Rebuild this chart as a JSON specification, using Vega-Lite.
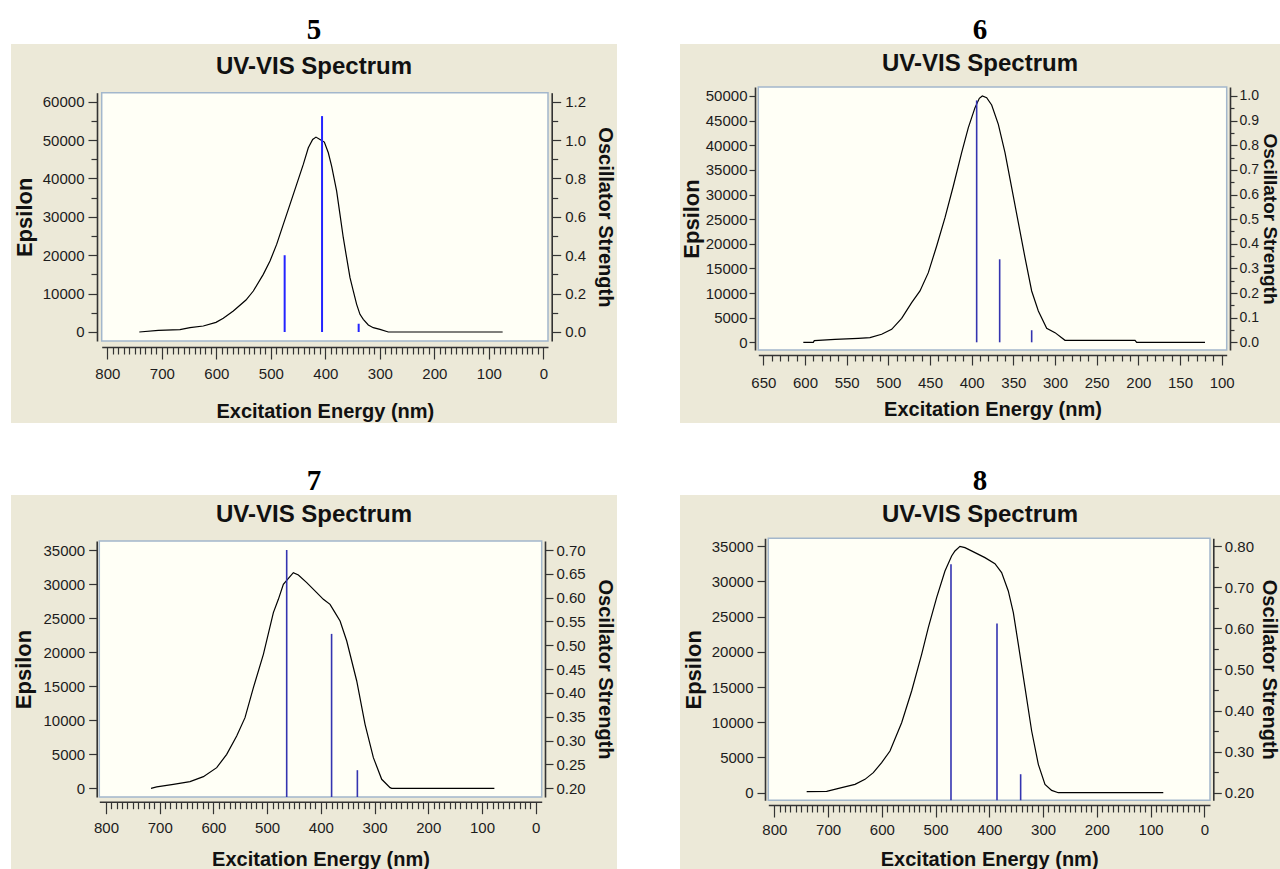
{
  "$schema": "https://vega.github.io/schema/vega-lite/v6.json",
  "background": "white",
  "padding": {"left": 11, "top": 15, "right": 0, "bottom": 0},
  "columns": 2,
  "spacing": {"row": 43, "column": 63},
  "datasets": {
    "spec5": [{"nm":741.3,"eps":0},{"nm":706.4,"eps":434},{"nm":666.7,"eps":608},{"nm":648.3,"eps":1128},{"nm":623.9,"eps":1562},{"nm":600.6,"eps":2517},{"nm":587.2,"eps":3559},{"nm":568.8,"eps":5468},{"nm":545.6,"eps":8333},{"nm":532.1,"eps":10676},{"nm":513.8,"eps":15016},{"nm":501.5,"eps":18488},{"nm":489.3,"eps":22828},{"nm":477.1,"eps":28036},{"nm":464.8,"eps":33244},{"nm":452.6,"eps":38452},{"nm":440.4,"eps":43660},{"nm":431.2,"eps":48000},{"nm":423.2,"eps":50170},{"nm":417.1,"eps":50778},{"nm":409.8,"eps":50170},{"nm":401.8,"eps":49476},{"nm":394.5,"eps":46698},{"nm":388.4,"eps":43226},{"nm":379.2,"eps":36716},{"nm":373.1,"eps":30640},{"nm":367.0,"eps":24564},{"nm":360.9,"eps":19356},{"nm":354.7,"eps":14148},{"nm":348.6,"eps":10676},{"nm":342.5,"eps":7204},{"nm":336.4,"eps":4600},{"nm":330.3,"eps":3298},{"nm":321.1,"eps":1823},{"nm":312.0,"eps":1128},{"nm":299.7,"eps":694},{"nm":284.4,"eps":0},{"nm":74.6,"eps":0}],
    "osc5": [{"nm":474.6,"f":0.40},{"nm":406,"f":1.125},{"nm":338.8,"f":0.043}],
    "spec6": [{"nm":602,"eps":0},{"nm":590,"eps":0},{"nm":588.8,"eps":338},{"nm":564,"eps":609},{"nm":536,"eps":812},{"nm":522,"eps":947},{"nm":508,"eps":1624},{"nm":496,"eps":2639},{"nm":484,"eps":4872},{"nm":472,"eps":8052},{"nm":462,"eps":10420},{"nm":452,"eps":14141},{"nm":442,"eps":19554},{"nm":432,"eps":25305},{"nm":422,"eps":31733},{"nm":412,"eps":38499},{"nm":404,"eps":43573},{"nm":396,"eps":47633},{"nm":390.8,"eps":49528},{"nm":387.2,"eps":50000},{"nm":382,"eps":49662},{"nm":376,"eps":48174},{"nm":368,"eps":44250},{"nm":360,"eps":38499},{"nm":352,"eps":31394},{"nm":344,"eps":24290},{"nm":336,"eps":17186},{"nm":328,"eps":10420},{"nm":320,"eps":6360},{"nm":310,"eps":2842},{"nm":300,"eps":1962},{"nm":288,"eps":406},{"nm":204,"eps":406},{"nm":202,"eps":0},{"nm":120,"eps":0}],
    "osc6": [{"nm":394,"f":0.982},{"nm":366.4,"f":0.337},{"nm":328,"f":0.049}],
    "spec7": [{"nm":716.2,"eps":0},{"nm":705.6,"eps":196},{"nm":674.6,"eps":587},{"nm":643.6,"eps":979},{"nm":618.7,"eps":1713},{"nm":593.9,"eps":3035},{"nm":575.3,"eps":4993},{"nm":556.7,"eps":7685},{"nm":541.2,"eps":10377},{"nm":525.6,"eps":14783},{"nm":507.0,"eps":19678},{"nm":488.4,"eps":25797},{"nm":479.1,"eps":27755},{"nm":469.8,"eps":29957},{"nm":459.2,"eps":30936},{"nm":451.2,"eps":31671},{"nm":441.8,"eps":31328},{"nm":426.3,"eps":30203},{"nm":407.7,"eps":28734},{"nm":395.3,"eps":27755},{"nm":382.9,"eps":27020},{"nm":373.6,"eps":25797},{"nm":364.2,"eps":24573},{"nm":351.8,"eps":21636},{"nm":333.2,"eps":15762},{"nm":317.7,"eps":9398},{"nm":302.2,"eps":4503},{"nm":286.7,"eps":1322},{"nm":271.1,"eps":98},{"nm":268.0,"eps":0},{"nm":76.9,"eps":0}],
    "osc7": [{"nm":463.6,"f":0.70},{"nm":380,"f":0.524},{"nm":332,"f":0.238}],
    "spec8": [{"nm":739.8,"eps":142},{"nm":702.6,"eps":189},{"nm":674.7,"eps":710},{"nm":649.9,"eps":1184},{"nm":631.3,"eps":1894},{"nm":615.8,"eps":2842},{"nm":600.3,"eps":4262},{"nm":584.8,"eps":5920},{"nm":563.1,"eps":9946},{"nm":544.5,"eps":14445},{"nm":525.9,"eps":19654},{"nm":513.5,"eps":23443},{"nm":498.0,"eps":27706},{"nm":482.5,"eps":31494},{"nm":470.1,"eps":33626},{"nm":463.9,"eps":34336},{"nm":454.6,"eps":35000},{"nm":445.3,"eps":34810},{"nm":426.7,"eps":34099},{"nm":408.1,"eps":33389},{"nm":389.5,"eps":32536},{"nm":377.1,"eps":31258},{"nm":364.7,"eps":28653},{"nm":355.3,"eps":25574},{"nm":346.0,"eps":21075},{"nm":333.6,"eps":14918},{"nm":321.2,"eps":8762},{"nm":308.8,"eps":4026},{"nm":296.4,"eps":1184},{"nm":284.0,"eps":332},{"nm":271.6,"eps":0},{"nm":76.3,"eps":0}],
    "osc8": [{"nm":471.3,"f":0.756},{"nm":385.7,"f":0.612},{"nm":341.7,"f":0.245}],
    "box": [{}]
  },
  "concat": [
    {
      "width": 606, "height": 379,
      "view": {"fill": "#ECE9D8", "stroke": null},
      "title": {"text": "5", "subtitle": "UV-VIS Spectrum", "offset": -34.7, "subtitlePadding": 10},
      "resolve": {"scale": {"y": "independent"}},
      "layer": [
        {
          "layer": [
            {
              "data": {"name": "box"},
              "mark": {"type": "rect", "fill": "#FFFFF6", "stroke": "#A3B7CC", "strokeWidth": 1.5},
              "encoding": {
                "x": {"datum": 810.3, "type": "quantitative",
                  "scale": {"domain": [810.3, -8.6], "range": [90.7, 537], "nice": false, "zero": false},
                  "axis": {"orient": "bottom", "offset": -76, "title": "Excitation Energy (nm)", "zindex": 1,
                    "values": [0,10,20,30,40,50,60,70,80,90,100,110,120,130,140,150,160,170,180,190,200,210,220,230,240,250,260,270,280,290,300,310,320,330,340,350,360,370,380,390,400,410,420,430,440,450,460,470,480,490,500,510,520,530,540,550,560,570,580,590,600,610,620,630,640,650,660,670,680,690,700,710,720,730,740,750,760,770,780,790,800],
                    "labelExpr": "datum.value % 100 == 0 ? datum.label : ''",
                    "tickSize": {"condition": {"test": "datum.value % 100 == 0", "value": 12}, "value": 7},
                    "gridOpacity": {"condition": {"test": "datum.value % 100 == 0", "value": 1}, "value": 0},
                    "labelPadding": 7, "titlePadding": 20}},
                "x2": {"datum": -8.6},
                "y": {"datum": -2345, "type": "quantitative",
                  "scale": {"domain": [-2345, 62345], "range": [297, 48.7], "nice": false, "zero": false},
                  "axis": {"orient": "left", "offset": -86, "title": "Epsilon", "format": "d", "zindex": 1,
                    "values": [0,5000,10000,15000,20000,25000,30000,35000,40000,45000,50000,55000,60000],
                    "labelExpr": "datum.value % 10000 == 0 ? datum.label : ''",
                    "tickSize": {"condition": {"test": "datum.value % 10000 == 0", "value": 9}, "value": 6},
                    "gridOpacity": {"condition": {"test": "datum.value % 10000 == 0", "value": 1}, "value": 0},
                    "labelPadding": 4, "titlePadding": 6, "titleFontSize": 22}},
                "y2": {"datum": 62345}
              }
            },
            {
              "data": {"name": "spec5"},
              "mark": {"type": "line", "color": "#000000", "strokeWidth": 1.2},
              "encoding": {
                "x": {"field": "nm", "type": "quantitative",
                  "scale": {"domain": [810.3, -8.6], "range": [90.7, 537], "nice": false, "zero": false},
                  "axis": {"orient": "bottom", "offset": -76, "title": "Excitation Energy (nm)", "zindex": 1,
                    "values": [0,10,20,30,40,50,60,70,80,90,100,110,120,130,140,150,160,170,180,190,200,210,220,230,240,250,260,270,280,290,300,310,320,330,340,350,360,370,380,390,400,410,420,430,440,450,460,470,480,490,500,510,520,530,540,550,560,570,580,590,600,610,620,630,640,650,660,670,680,690,700,710,720,730,740,750,760,770,780,790,800],
                    "labelExpr": "datum.value % 100 == 0 ? datum.label : ''",
                    "tickSize": {"condition": {"test": "datum.value % 100 == 0", "value": 12}, "value": 7},
                    "gridOpacity": {"condition": {"test": "datum.value % 100 == 0", "value": 1}, "value": 0},
                    "labelPadding": 7, "titlePadding": 20}},
                "y": {"field": "eps", "type": "quantitative",
                  "scale": {"domain": [-2345, 62345], "range": [297, 48.7], "nice": false, "zero": false},
                  "axis": {"orient": "left", "offset": -86, "title": "Epsilon", "format": "d", "zindex": 1,
                    "values": [0,5000,10000,15000,20000,25000,30000,35000,40000,45000,50000,55000,60000],
                    "labelExpr": "datum.value % 10000 == 0 ? datum.label : ''",
                    "tickSize": {"condition": {"test": "datum.value % 10000 == 0", "value": 9}, "value": 6},
                    "gridOpacity": {"condition": {"test": "datum.value % 10000 == 0", "value": 1}, "value": 0},
                    "labelPadding": 4, "titlePadding": 6, "titleFontSize": 22}}
              }
            }
          ]
        },
        {
          "data": {"name": "osc5"},
          "mark": {"type": "rule", "color": "#2424FF", "strokeWidth": 2},
          "encoding": {
            "x": {"field": "nm", "type": "quantitative",
              "scale": {"domain": [810.3, -8.6], "range": [90.7, 537], "nice": false, "zero": false},
              "axis": {"orient": "bottom", "offset": -76, "title": "Excitation Energy (nm)", "zindex": 1,
                "values": [0,10,20,30,40,50,60,70,80,90,100,110,120,130,140,150,160,170,180,190,200,210,220,230,240,250,260,270,280,290,300,310,320,330,340,350,360,370,380,390,400,410,420,430,440,450,460,470,480,490,500,510,520,530,540,550,560,570,580,590,600,610,620,630,640,650,660,670,680,690,700,710,720,730,740,750,760,770,780,790,800],
                "labelExpr": "datum.value % 100 == 0 ? datum.label : ''",
                "tickSize": {"condition": {"test": "datum.value % 100 == 0", "value": 12}, "value": 7},
                "gridOpacity": {"condition": {"test": "datum.value % 100 == 0", "value": 1}, "value": 0},
                "labelPadding": 7, "titlePadding": 20}},
            "y": {"field": "f", "type": "quantitative",
              "scale": {"domain": [-0.0469, 1.2469], "range": [297, 48.7], "nice": false, "zero": false},
              "axis": {"orient": "right", "offset": -65.3, "title": "Oscillator Strength", "format": ".1f", "grid": false, "zindex": 1,
                "values": [0,0.1,0.2,0.3,0.4,0.5,0.6,0.7,0.8,0.9,1.0,1.1,1.2],
                "labelExpr": "round(datum.value*10) % 2 == 0 ? datum.label : ''",
                "tickSize": {"condition": {"test": "round(datum.value*10) % 2 == 0", "value": 9}, "value": 6},
                "labelPadding": 4, "titlePadding": 9, "titleFontSize": 20}},
            "y2": {"datum": 0}
          }
        }
      ]
    },
    {
      "width": 600, "height": 379,
      "view": {"fill": "#ECE9D8", "stroke": null},
      "title": {"text": "6", "subtitle": "UV-VIS Spectrum", "offset": -31.7, "subtitlePadding": 7},
      "resolve": {"scale": {"y": "independent"}},
      "layer": [
        {
          "layer": [
            {
              "data": {"name": "box"},
              "mark": {"type": "rect", "fill": "#FFFFF6", "stroke": "#A3B7CC", "strokeWidth": 1.5},
              "encoding": {
                "x": {"datum": 656, "type": "quantitative",
                  "scale": {"domain": [656, 94], "range": [78.3, 546.7], "nice": false, "zero": false},
                  "axis": {"orient": "bottom", "offset": -68, "title": "Excitation Energy (nm)", "zindex": 1,
                    "values": [100,110,120,130,140,150,160,170,180,190,200,210,220,230,240,250,260,270,280,290,300,310,320,330,340,350,360,370,380,390,400,410,420,430,440,450,460,470,480,490,500,510,520,530,540,550,560,570,580,590,600,610,620,630,640,650],
                    "labelExpr": "datum.value % 50 == 0 ? datum.label : ''",
                    "tickSize": {"condition": {"test": "datum.value % 50 == 0", "value": 10}, "value": 6},
                    "gridOpacity": {"condition": {"test": "datum.value % 50 == 0", "value": 1}, "value": 0},
                    "labelPadding": 10, "titlePadding": 9}},
                "x2": {"datum": 94},
                "y": {"datum": -1563, "type": "quantitative",
                  "scale": {"domain": [-1563, 51827], "range": [306, 43], "nice": false, "zero": false},
                  "axis": {"orient": "left", "offset": -75, "title": "Epsilon", "format": "d", "zindex": 1,
                    "values": [0,5000,10000,15000,20000,25000,30000,35000,40000,45000,50000],
                    "tickSize": 6, "labelPadding": 2, "titlePadding": 2, "titleFontSize": 22}},
                "y2": {"datum": 51827}
              }
            },
            {
              "data": {"name": "spec6"},
              "mark": {"type": "line", "color": "#000000", "strokeWidth": 1.2},
              "encoding": {
                "x": {"field": "nm", "type": "quantitative",
                  "scale": {"domain": [656, 94], "range": [78.3, 546.7], "nice": false, "zero": false},
                  "axis": {"orient": "bottom", "offset": -68, "title": "Excitation Energy (nm)", "zindex": 1,
                    "values": [100,110,120,130,140,150,160,170,180,190,200,210,220,230,240,250,260,270,280,290,300,310,320,330,340,350,360,370,380,390,400,410,420,430,440,450,460,470,480,490,500,510,520,530,540,550,560,570,580,590,600,610,620,630,640,650],
                    "labelExpr": "datum.value % 50 == 0 ? datum.label : ''",
                    "tickSize": {"condition": {"test": "datum.value % 50 == 0", "value": 10}, "value": 6},
                    "gridOpacity": {"condition": {"test": "datum.value % 50 == 0", "value": 1}, "value": 0},
                    "labelPadding": 10, "titlePadding": 9}},
                "y": {"field": "eps", "type": "quantitative",
                  "scale": {"domain": [-1563, 51827], "range": [306, 43], "nice": false, "zero": false},
                  "axis": {"orient": "left", "offset": -75, "title": "Epsilon", "format": "d", "zindex": 1,
                    "values": [0,5000,10000,15000,20000,25000,30000,35000,40000,45000,50000],
                    "tickSize": 6, "labelPadding": 2, "titlePadding": 2, "titleFontSize": 22}}
              }
            }
          ]
        },
        {
          "data": {"name": "osc6"},
          "mark": {"type": "rule", "color": "#3434B0", "strokeWidth": 1.6},
          "encoding": {
            "x": {"field": "nm", "type": "quantitative",
              "scale": {"domain": [656, 94], "range": [78.3, 546.7], "nice": false, "zero": false},
              "axis": {"orient": "bottom", "offset": -68, "title": "Excitation Energy (nm)", "zindex": 1,
                "values": [100,110,120,130,140,150,160,170,180,190,200,210,220,230,240,250,260,270,280,290,300,310,320,330,340,350,360,370,380,390,400,410,420,430,440,450,460,470,480,490,500,510,520,530,540,550,560,570,580,590,600,610,620,630,640,650],
                "labelExpr": "datum.value % 50 == 0 ? datum.label : ''",
                "tickSize": {"condition": {"test": "datum.value % 50 == 0", "value": 10}, "value": 6},
                "gridOpacity": {"condition": {"test": "datum.value % 50 == 0", "value": 1}, "value": 0},
                "labelPadding": 10, "titlePadding": 9}},
            "y": {"field": "f", "type": "quantitative",
              "scale": {"domain": [-0.03126, 1.03654], "range": [306, 43], "nice": false, "zero": false},
              "axis": {"orient": "right", "offset": -50, "title": "Oscillator Strength", "format": ".1f", "grid": false, "zindex": 1,
                "values": [0,0.05,0.1,0.15,0.2,0.25,0.3,0.35,0.4,0.45,0.5,0.55,0.6,0.65,0.7,0.75,0.8,0.85,0.9,0.95,1.0],
                "labelExpr": "round(datum.value*100) % 10 == 0 ? datum.label : ''",
                "tickSize": {"condition": {"test": "round(datum.value*100) % 10 == 0", "value": 7}, "value": 4},
                "labelPadding": 2, "labelFontSize": 14, "titlePadding": 1, "titleFontSize": 19}},
            "y2": {"datum": 0}
          }
        }
      ]
    },
    {
      "width": 606, "height": 375,
      "view": {"fill": "#ECE9D8", "stroke": null},
      "title": {"text": "7", "subtitle": "UV-VIS Spectrum", "offset": -31.7, "subtitlePadding": 7},
      "resolve": {"scale": {"y": "independent"}},
      "layer": [
        {
          "layer": [
            {
              "data": {"name": "box"},
              "mark": {"type": "rect", "fill": "#FFFFF6", "stroke": "#A3B7CC", "strokeWidth": 1.5},
              "encoding": {
                "x": {"datum": 812.5, "type": "quantitative",
                  "scale": {"domain": [812.5, -11.2], "range": [88.3, 530.7], "nice": false, "zero": false},
                  "axis": {"orient": "bottom", "offset": -68.3, "title": "Excitation Energy (nm)", "zindex": 1,
                    "values": [0,10,20,30,40,50,60,70,80,90,100,110,120,130,140,150,160,170,180,190,200,210,220,230,240,250,260,270,280,290,300,310,320,330,340,350,360,370,380,390,400,410,420,430,440,450,460,470,480,490,500,510,520,530,540,550,560,570,580,590,600,610,620,630,640,650,660,670,680,690,700,710,720,730,740,750,760,770,780,790,800],
                    "labelExpr": "datum.value % 100 == 0 ? datum.label : ''",
                    "tickSize": {"condition": {"test": "datum.value % 100 == 0", "value": 12}, "value": 7},
                    "gridOpacity": {"condition": {"test": "datum.value % 100 == 0", "value": 1}, "value": 0},
                    "labelPadding": 7, "titlePadding": 14}},
                "x2": {"datum": -11.2},
                "y": {"datum": -1278, "type": "quantitative",
                  "scale": {"domain": [-1278, 36322], "range": [302, 46], "nice": false, "zero": false},
                  "axis": {"orient": "left", "offset": -85.7, "title": "Epsilon", "format": "d", "zindex": 1,
                    "values": [0,5000,10000,15000,20000,25000,30000,35000],
                    "tickSize": 8, "labelPadding": 4, "titlePadding": 7, "titleFontSize": 22}},
                "y2": {"datum": 36322}
              }
            },
            {
              "data": {"name": "spec7"},
              "mark": {"type": "line", "color": "#000000", "strokeWidth": 1.2},
              "encoding": {
                "x": {"field": "nm", "type": "quantitative",
                  "scale": {"domain": [812.5, -11.2], "range": [88.3, 530.7], "nice": false, "zero": false},
                  "axis": {"orient": "bottom", "offset": -68.3, "title": "Excitation Energy (nm)", "zindex": 1,
                    "values": [0,10,20,30,40,50,60,70,80,90,100,110,120,130,140,150,160,170,180,190,200,210,220,230,240,250,260,270,280,290,300,310,320,330,340,350,360,370,380,390,400,410,420,430,440,450,460,470,480,490,500,510,520,530,540,550,560,570,580,590,600,610,620,630,640,650,660,670,680,690,700,710,720,730,740,750,760,770,780,790,800],
                    "labelExpr": "datum.value % 100 == 0 ? datum.label : ''",
                    "tickSize": {"condition": {"test": "datum.value % 100 == 0", "value": 12}, "value": 7},
                    "gridOpacity": {"condition": {"test": "datum.value % 100 == 0", "value": 1}, "value": 0},
                    "labelPadding": 7, "titlePadding": 14}},
                "y": {"field": "eps", "type": "quantitative",
                  "scale": {"domain": [-1278, 36322], "range": [302, 46], "nice": false, "zero": false},
                  "axis": {"orient": "left", "offset": -85.7, "title": "Epsilon", "format": "d", "zindex": 1,
                    "values": [0,5000,10000,15000,20000,25000,30000,35000],
                    "tickSize": 8, "labelPadding": 4, "titlePadding": 7, "titleFontSize": 22}}
              }
            }
          ]
        },
        {
          "data": {"name": "osc7"},
          "mark": {"type": "rule", "color": "#3434B0", "strokeWidth": 1.6},
          "encoding": {
            "x": {"field": "nm", "type": "quantitative",
              "scale": {"domain": [812.5, -11.2], "range": [88.3, 530.7], "nice": false, "zero": false},
              "axis": {"orient": "bottom", "offset": -68.3, "title": "Excitation Energy (nm)", "zindex": 1,
                "values": [0,10,20,30,40,50,60,70,80,90,100,110,120,130,140,150,160,170,180,190,200,210,220,230,240,250,260,270,280,290,300,310,320,330,340,350,360,370,380,390,400,410,420,430,440,450,460,470,480,490,500,510,520,530,540,550,560,570,580,590,600,610,620,630,640,650,660,670,680,690,700,710,720,730,740,750,760,770,780,790,800],
                "labelExpr": "datum.value % 100 == 0 ? datum.label : ''",
                "tickSize": {"condition": {"test": "datum.value % 100 == 0", "value": 12}, "value": 7},
                "gridOpacity": {"condition": {"test": "datum.value % 100 == 0", "value": 1}, "value": 0},
                "labelPadding": 7, "titlePadding": 14}},
            "y": {"field": "f", "type": "quantitative",
              "scale": {"domain": [0.18174, 0.71889], "range": [302, 46], "nice": false, "zero": false},
              "axis": {"orient": "right", "offset": -72, "title": "Oscillator Strength", "format": ".2f", "grid": false, "zindex": 1,
                "values": [0.2,0.25,0.3,0.35,0.4,0.45,0.5,0.55,0.6,0.65,0.7],
                "tickSize": 8, "labelPadding": 3, "titlePadding": 9, "titleFontSize": 20}},
            "y2": {"datum": 0.18174}
          }
        }
      ]
    },
    {
      "width": 600, "height": 375,
      "view": {"fill": "#ECE9D8", "stroke": null},
      "title": {"text": "8", "subtitle": "UV-VIS Spectrum", "offset": -31.7, "subtitlePadding": 7},
      "resolve": {"scale": {"y": "independent"}},
      "layer": [
        {
          "layer": [
            {
              "data": {"name": "box"},
              "mark": {"type": "rect", "fill": "#FFFFF6", "stroke": "#A3B7CC", "strokeWidth": 1.5},
              "encoding": {
                "x": {"datum": 811.2, "type": "quantitative",
                  "scale": {"domain": [811.2, -10.6], "range": [88.3, 530], "nice": false, "zero": false},
                  "axis": {"orient": "bottom", "offset": -65, "title": "Excitation Energy (nm)", "zindex": 1,
                    "values": [0,10,20,30,40,50,60,70,80,90,100,110,120,130,140,150,160,170,180,190,200,210,220,230,240,250,260,270,280,290,300,310,320,330,340,350,360,370,380,390,400,410,420,430,440,450,460,470,480,490,500,510,520,530,540,550,560,570,580,590,600,610,620,630,640,650,660,670,680,690,700,710,720,730,740,750,760,770,780,790,800],
                    "labelExpr": "datum.value % 100 == 0 ? datum.label : ''",
                    "tickSize": {"condition": {"test": "datum.value % 100 == 0", "value": 12}, "value": 7},
                    "gridOpacity": {"condition": {"test": "datum.value % 100 == 0", "value": 1}, "value": 0},
                    "labelPadding": 5, "titlePadding": 12}},
                "x2": {"datum": -10.6},
                "y": {"datum": -1080, "type": "quantitative",
                  "scale": {"domain": [-1080, 36136], "range": [305.3, 43.3], "nice": false, "zero": false},
                  "axis": {"orient": "left", "offset": -85, "title": "Epsilon", "format": "d", "zindex": 1,
                    "values": [0,5000,10000,15000,20000,25000,30000,35000],
                    "tickSize": 8, "labelPadding": 4, "titlePadding": 6, "titleFontSize": 22}},
                "y2": {"datum": 36136}
              }
            },
            {
              "data": {"name": "spec8"},
              "mark": {"type": "line", "color": "#000000", "strokeWidth": 1.2},
              "encoding": {
                "x": {"field": "nm", "type": "quantitative",
                  "scale": {"domain": [811.2, -10.6], "range": [88.3, 530], "nice": false, "zero": false},
                  "axis": {"orient": "bottom", "offset": -65, "title": "Excitation Energy (nm)", "zindex": 1,
                    "values": [0,10,20,30,40,50,60,70,80,90,100,110,120,130,140,150,160,170,180,190,200,210,220,230,240,250,260,270,280,290,300,310,320,330,340,350,360,370,380,390,400,410,420,430,440,450,460,470,480,490,500,510,520,530,540,550,560,570,580,590,600,610,620,630,640,650,660,670,680,690,700,710,720,730,740,750,760,770,780,790,800],
                    "labelExpr": "datum.value % 100 == 0 ? datum.label : ''",
                    "tickSize": {"condition": {"test": "datum.value % 100 == 0", "value": 12}, "value": 7},
                    "gridOpacity": {"condition": {"test": "datum.value % 100 == 0", "value": 1}, "value": 0},
                    "labelPadding": 5, "titlePadding": 12}},
                "y": {"field": "eps", "type": "quantitative",
                  "scale": {"domain": [-1080, 36136], "range": [305.3, 43.3], "nice": false, "zero": false},
                  "axis": {"orient": "left", "offset": -85, "title": "Epsilon", "format": "d", "zindex": 1,
                    "values": [0,5000,10000,15000,20000,25000,30000,35000],
                    "tickSize": 8, "labelPadding": 4, "titlePadding": 6, "titleFontSize": 22}}
              }
            }
          ]
        },
        {
          "data": {"name": "osc8"},
          "mark": {"type": "rule", "color": "#3434B0", "strokeWidth": 1.6},
          "encoding": {
            "x": {"field": "nm", "type": "quantitative",
              "scale": {"domain": [811.2, -10.6], "range": [88.3, 530], "nice": false, "zero": false},
              "axis": {"orient": "bottom", "offset": -65, "title": "Excitation Energy (nm)", "zindex": 1,
                "values": [0,10,20,30,40,50,60,70,80,90,100,110,120,130,140,150,160,170,180,190,200,210,220,230,240,250,260,270,280,290,300,310,320,330,340,350,360,370,380,390,400,410,420,430,440,450,460,470,480,490,500,510,520,530,540,550,560,570,580,590,600,610,620,630,640,650,660,670,680,690,700,710,720,730,740,750,760,770,780,790,800],
                "labelExpr": "datum.value % 100 == 0 ? datum.label : ''",
                "tickSize": {"condition": {"test": "datum.value % 100 == 0", "value": 12}, "value": 7},
                "gridOpacity": {"condition": {"test": "datum.value % 100 == 0", "value": 1}, "value": 0},
                "labelPadding": 5, "titlePadding": 12}},
            "y": {"field": "f", "type": "quantitative",
              "scale": {"domain": [0.18149, 0.81947], "range": [305.3, 43.3], "nice": false, "zero": false},
              "axis": {"orient": "right", "offset": -66.7, "title": "Oscillator Strength", "format": ".2f", "grid": false, "zindex": 1,
                "values": [0.2,0.25,0.3,0.35,0.4,0.45,0.5,0.55,0.6,0.65,0.7,0.75,0.8],
                "labelExpr": "round(datum.value*100) % 10 == 0 ? datum.label : ''",
                "tickSize": {"condition": {"test": "round(datum.value*100) % 10 == 0", "value": 8}, "value": 5},
                "labelPadding": 3, "titlePadding": 5, "titleFontSize": 20}},
            "y2": {"datum": 0.18149}
          }
        }
      ]
    }
  ],
  "config": {
    "view": {"stroke": null},
    "axis": {
      "domainColor": "#333333", "domainWidth": 1.6, "tickColor": "#333333", "tickWidth": 1.2,
      "labelFont": "Liberation Sans", "labelFontSize": 15, "labelColor": "#1c1c1c",
      "titleFont": "Liberation Sans", "titleFontWeight": "bold", "titleColor": "#111111",
      "gridColor": "#C2C2C2", "gridDash": [4, 3], "gridWidth": 1,
      "labelOverlap": false, "labelFlush": false
    },
    "axisX": {"titleFontSize": 20},
    "title": {
      "anchor": "middle", "frame": "group",
      "font": "Liberation Serif", "fontSize": 29, "fontWeight": "bold", "color": "#000000",
      "subtitleFont": "Liberation Sans", "subtitleFontSize": 24, "subtitleFontWeight": "bold", "subtitleColor": "#111111"
    }
  }
}
